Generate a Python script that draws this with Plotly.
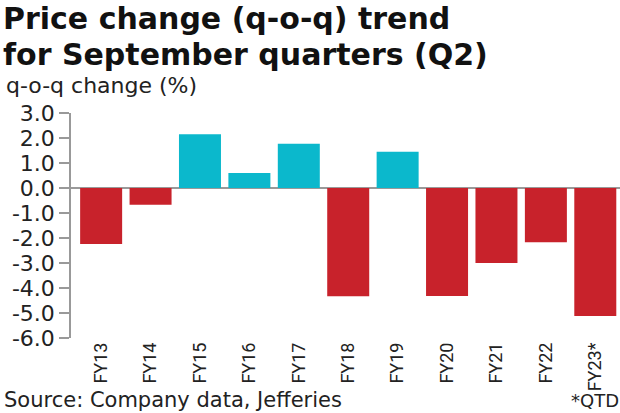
import plotly.graph_objects as go

years = ['FY13', 'FY14', 'FY15', 'FY16', 'FY17', 'FY18', 'FY19', 'FY20', 'FY21', 'FY22', 'FY23*']
change = [-2.24, -0.67, 2.15, 0.6, 1.77, -4.33, 1.45, -4.32, -3.0, -2.17, -5.12]
y_ticks = [3, 2, 1, 0, -1, -2, -3, -4, -5, -6]

RED = '#C8222B'
CYAN = '#0BB8CC'
FONT = 'DejaVu Sans'

colors = [CYAN if v > 0 else RED for v in change]

fig = go.Figure(go.Bar(
    x=list(range(len(years))),
    y=change,
    marker=dict(color=colors, line=dict(width=0)),
    width=0.85,
))

fig.update_layout(
    width=620, height=413,
    margin=dict(l=71, r=0, t=113, b=75),
    plot_bgcolor='white', paper_bgcolor='white',
    showlegend=False,
    font=dict(family=FONT, color='#222222'),
)

fig.update_xaxes(
    range=[-0.61, 10.5],
    tickmode='array', tickvals=list(range(len(years))), ticktext=years,
    tickangle=-90,
    tickfont=dict(family='Roboto', size=18, color='#222222'),
    showgrid=False, zeroline=False, showline=False, ticks='',
)

fig.update_yaxes(
    range=[-6, 3],
    tickmode='array', tickvals=y_ticks,
    ticktext=[f'{v:.1f}' for v in y_ticks],
    tickfont=dict(family=FONT, size=22, color='#222222'),
    showgrid=False,
    zeroline=True, zerolinecolor='#999999', zerolinewidth=1.5,
    showline=True, linecolor='#999999', linewidth=1.5,
    ticks='outside', ticklen=10, tickcolor='#999999', tickwidth=1.5,
)

# title, two lines placed separately to keep the tight line spacing
for line, top in [('Price change (q-o-q) trend', 0), ('for September quarters (Q2)', 36)]:
    fig.add_annotation(
        text=f'<b>{line}</b>',
        xref='paper', yref='paper', x=-69 / 549, y=1 + (113 - top) / 225,
        xanchor='left', yanchor='top', align='left', showarrow=False,
        borderpad=0,
        font=dict(family=FONT, size=30, color='#111111'),
    )
fig.add_annotation(
    text='q-o-q change (%)',
    xref='paper', yref='paper', x=-66 / 549, y=1 + 27 / 225,
    xanchor='left', yanchor='middle', showarrow=False, borderpad=0,
    font=dict(family=FONT, size=22, color='#222222'),
)
fig.add_annotation(
    text='Source: Company data, Jefferies',
    xref='paper', yref='paper', x=-68 / 549, y=-62 / 225,
    xanchor='left', yanchor='middle', showarrow=False, borderpad=0,
    font=dict(family=FONT, size=21, color='#222222'),
)
fig.add_annotation(
    text='*QTD',
    xref='paper', yref='paper', x=1, y=-62 / 225,
    xanchor='right', yanchor='middle', showarrow=False, borderpad=0,
    font=dict(family=FONT, size=18, color='#222222'),
)

fig.write_html('out.html', config={'displayModeBar': False},
               post_script="document.body.style.margin='0';")
